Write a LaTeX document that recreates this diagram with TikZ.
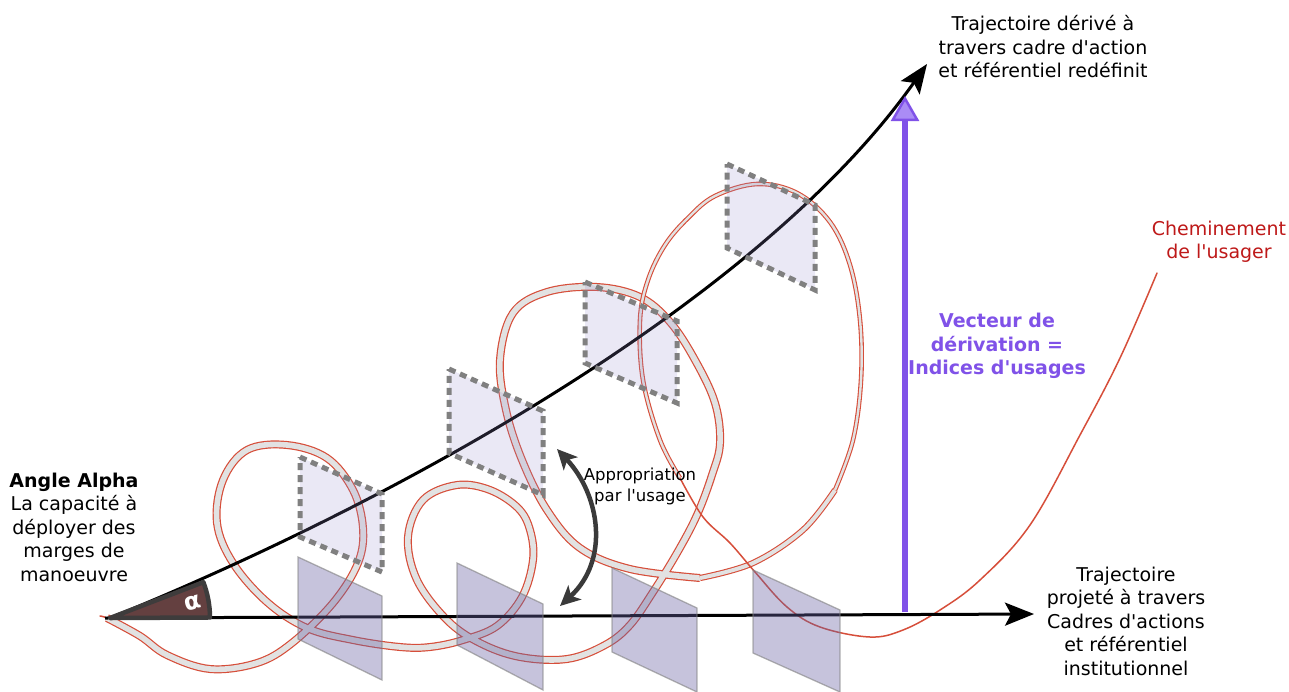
\documentclass[tikz,border=0pt]{standalone}
\usepackage{fontspec}
\setmainfont{DejaVu Sans}[Ligatures=TeXOff]
\usetikzlibrary{arrows.meta}
\definecolor{bandred}{RGB}{214,78,58}
\definecolor{bandgray}{RGB}{226,226,226}
\definecolor{vpurple}{RGB}{128,82,232}
\definecolor{vlight}{RGB}{170,140,245}
\definecolor{chred}{RGB}{190,25,25}
\definecolor{sqfill}{RGB}{150,140,205}
\definecolor{pgfillc}{RGB}{105,98,163}
\definecolor{wedgegray}{RGB}{62,60,60}
\definecolor{wedgebrown}{RGB}{100,64,64}
\definecolor{darkarrow}{RGB}{58,58,58}
\newcommand\lblfont{\fontsize{19}{23.5}\selectfont}
\newcommand\smallfont{\fontsize{16.5}{21}\selectfont}
\begin{document}
\begin{tikzpicture}[x=1pt,y=-1pt,
  bandA/.style={draw=bandred, line width=8pt, line join=round, line cap=butt,
    postaction={draw=bandgray, line width=5.6pt}},
  bandM/.style={draw=bandred, line width=6.2pt, line join=round, line cap=butt,
    postaction={draw=bandgray, line width=4pt}},
  bandB/.style={draw=bandred, line width=4.6pt, line join=round, line cap=butt,
    postaction={draw=bandgray, line width=2.4pt}},
  bandC/.style={draw=bandred, line width=1.5pt, line join=round, line cap=round},
  blackarr/.style={draw=black, line width=3pt, -{Stealth[length=29pt, width=23pt, inset=6pt]}},
  dashsq/.style={fill=sqfill, fill opacity=0.2, draw=gray, draw opacity=1, line width=5pt, dash pattern=on 7pt off 5pt},
  solidsq/.style={fill=pgfillc, fill opacity=0.38, draw=gray, draw opacity=0.6, line width=1.3pt},
  lbl/.style={align=center, inner sep=0pt, font=\lblfont, text=black},
]
\useasboundingbox (0,0) rectangle (1289,691);

% user path (band)
\path[bandC] plot[smooth, tension=0.6] coordinates {(100,616) (107,618) (125,627)};
\path[bandA] plot[smooth, tension=0.6] coordinates {
 (107,618) (140,636) (167,655) (210,669) (257,663) (292,643) (333,603) (358,563)
 (363,528) (353,490) (327,458) (287,445) (247,450) (223,480) (217,523) (233,563)
 (267,602) (307,628) (353,640) (400,647) (430,647) (463,640) (497,626) (522,597)
 (533,560) (530,530) (518,508) (490,490) (457,485) (423,500) (408,537) (417,580)
 (447,620) (480,643) (520,657) (567,659) (605,645) (630,625) (653,592) (677,553)
 (697,515) (712,475) (720,443) (715,403) (695,360) (670,322) (640,297) (597,287)
 (547,292) (513,313) (500,360) (506,410) (522,460) (547,510) (580,548) (630,569)
 (700,578)};
\path[bandM] plot[smooth, tension=0.6] coordinates {
 (700,578) (753,563) (803,530) (835,490)};
\path[bandB] plot[smooth, tension=0.6] coordinates {
 (835,490) (853,440) (861,380) (860,320) (850,265) (830,222) (797,193)
 (757,184) (715,196) (688,218) (665,245) (648,280) (640,320) (643,380) (660,440)
 (680,478)};
\path[bandC] plot[smooth, tension=0.6] coordinates {
 (680,478) (703,517) (730,543) (755,572) (787,607) (820,627) (870,637)
 (903,630) (940,610) (980,580) (1030,525) (1080,435) (1120,358) (1157,273)};

% axes
\coordinate (capex) at (110,618);
\coordinate (ctip) at (927,64);
\coordinate (hstart) at (105,618);
\coordinate (htip) at (1034,614);
\draw[blackarr] (capex) .. controls (400,500) and (760,300) .. (ctip);
\draw[blackarr] (hstart) -- (htip);

% angle wedge
\filldraw[fill=wedgebrown, draw=wedgegray, line width=4.5pt, line join=round]
  (capex) -- ++(0.3:100pt) arc[start angle=0.3, end angle=21, radius=100pt] -- cycle;
\node[text=white, font=\fontsize{24}{24}\selectfont\bfseries, rotate=15, inner sep=0pt] (alpha) at (193,603) {α};

% dashed frames along the derived trajectory
\path[dashsq] (300,457) -- (382,494) -- (382,572) -- (300,537) -- cycle;
\path[dashsq] (449,369) -- (543,411) -- (543,495) -- (449,453) -- cycle;
\path[dashsq] (585,282) -- (677,321) -- (677,403) -- (585,363) -- cycle;
\path[dashsq] (727,164) -- (815,205) -- (815,290) -- (727,248) -- cycle;

% solid frames along the projected trajectory
\path[solidsq] (298,557) -- (382,596) -- (382,680) -- (298,639) -- cycle;
\path[solidsq] (457,563) -- (543,604) -- (543,690) -- (457,645) -- cycle;
\path[solidsq] (612,568) -- (697,608) -- (697,692) -- (612,652) -- cycle;
\path[solidsq] (753,570) -- (840,610) -- (840,692) -- (753,653) -- cycle;

% derivation vector
\coordinate (vbase) at (905,612);
\coordinate (vtip) at (905,96);
\draw[vpurple, line width=6pt, -{Triangle[length=25pt, width=28pt, line width=2.5pt, fill=vlight]}] (vbase) -- (vtip);

% appropriation arrow
\coordinate (apA) at (557,449);
\coordinate (apB) at (560,606);
\draw[darkarrow, line width=4.5pt, {Stealth[length=20pt, width=19pt, inset=5pt]}-{Stealth[length=20pt, width=19pt, inset=5pt]}]
  (apA) .. controls (600,495) and (610,560) .. (apB);

% labels
\node[lbl] (tderive) at (1043,47) {Trajectoire dérivé à\\travers cadre d'action\\et référentiel redéfinit};
\node[lbl, text=chred] (chem) at (1219,242) {Cheminement\\de l'usager};
\node[lbl, text=vpurple, font=\lblfont\bfseries] (vect) at (997,346) {Vecteur de\\dérivation =\\Indices d'usages};
\node[lbl] (tproj) at (1126,621) {Trajectoire\\projeté à travers\\Cadres d'actions\\et référentiel\\institutionnel};
\node[lbl] (angle) at (74,527) {\textbf{Angle Alpha}\\La capacité à\\déployer des\\marges de\\manoeuvre};
\node[lbl, font=\smallfont] (appr) at (640,486) {Appropriation\\par l'usage};
\end{tikzpicture}
\end{document}
